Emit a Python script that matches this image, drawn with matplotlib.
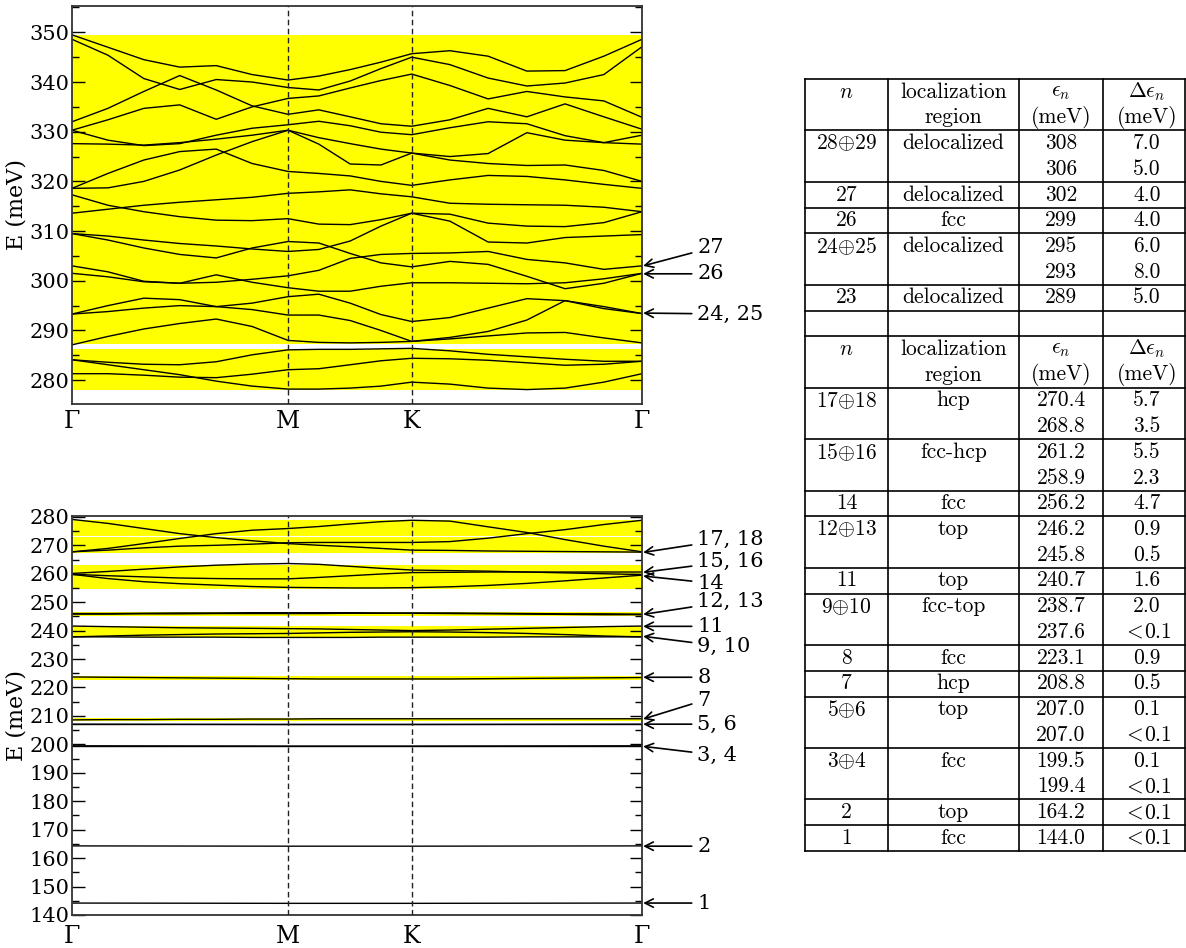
import matplotlib
matplotlib.use("Agg")
import matplotlib.pyplot as plt
from matplotlib.ticker import MultipleLocator

plt.rcParams['font.family'] = 'DejaVu Serif'
plt.rcParams['mathtext.fontset'] = 'cm'

# k-path Gamma-M-K-Gamma, fraction of the path
k_grid = [0.0, 0.063, 0.126, 0.189, 0.253, 0.316, 0.379, 0.433, 0.488,
          0.542, 0.596, 0.663, 0.730, 0.798, 0.865, 0.933, 1.0]
k_nodes = [0.0, 0.379, 0.596, 1.0]
node_labels = ['Γ', 'M', 'K', 'Γ']

# upper panel bands (meV) on k_grid
top_bands = [
    [349.5, 347.0, 344.5, 343.0, 343.3, 341.5, 340.4, 341.2, 342.5, 344.0, 345.7, 346.3, 345.2, 342.2, 342.3, 345.2, 348.6],
    [348.6, 345.4, 340.7, 338.5, 340.5, 340.0, 338.9, 338.4, 340.2, 342.7, 345.0, 343.5, 340.8, 339.2, 339.8, 341.5, 347.1],
    [332.0, 334.7, 338.1, 341.3, 338.4, 335.2, 333.5, 334.4, 333.0, 331.6, 331.1, 332.4, 334.7, 333.0, 335.6, 333.0, 330.5],
    [330.3, 332.4, 334.7, 335.4, 332.5, 335.0, 336.7, 337.2, 338.8, 340.3, 341.6, 339.3, 336.6, 338.1, 337.0, 336.2, 332.9],
    [330.3, 328.3, 327.2, 327.6, 329.3, 330.7, 331.4, 332.1, 331.2, 329.9, 329.4, 330.8, 332.0, 331.6, 329.2, 327.8, 329.3],
    [327.6, 327.5, 327.3, 327.8, 328.5, 329.3, 330.3, 328.8, 327.6, 326.5, 325.7, 325.0, 325.6, 329.8, 328.3, 327.8, 327.5],
    [318.6, 318.7, 320.0, 322.3, 325.3, 328.0, 330.3, 327.5, 323.5, 323.3, 325.7, 324.3, 323.6, 323.2, 323.3, 322.2, 320.0],
    [318.6, 321.6, 324.3, 326.0, 326.5, 323.6, 322.0, 321.6, 321.1, 320.0, 319.2, 320.3, 321.2, 321.0, 320.3, 319.4, 318.6],
    [313.6, 314.4, 315.2, 315.8, 316.3, 316.8, 317.6, 317.9, 318.3, 317.5, 316.9, 315.6, 315.4, 315.3, 315.2, 314.8, 313.9],
    [317.3, 315.2, 313.9, 312.9, 312.2, 312.1, 312.5, 311.4, 311.3, 312.3, 313.6, 313.4, 311.6, 311.0, 310.9, 311.7, 313.9],
    [309.5, 309.0, 308.2, 307.5, 307.0, 306.4, 305.9, 306.3, 308.0, 311.0, 313.6, 312.0, 307.8, 307.6, 308.7, 309.0, 309.3],
    [309.5, 308.2, 306.6, 305.3, 304.6, 306.6, 307.9, 307.6, 305.5, 303.6, 302.8, 303.9, 303.3, 300.9, 298.4, 299.5, 301.5],
    [301.5, 300.8, 299.8, 299.5, 299.7, 300.3, 301.0, 302.1, 304.5, 305.3, 305.5, 305.6, 305.9, 304.3, 303.6, 302.3, 303.0],
    [303.0, 301.8, 299.9, 299.5, 301.2, 299.7, 298.6, 297.9, 297.9, 298.9, 299.6, 299.6, 299.5, 299.4, 299.6, 300.4, 301.5],
    [293.3, 293.8, 294.5, 295.0, 294.8, 295.5, 296.8, 297.3, 295.5, 293.2, 291.8, 292.6, 294.5, 296.4, 296.0, 294.4, 293.4],
    [293.3, 295.0, 296.5, 296.2, 294.8, 294.2, 293.1, 293.1, 292.0, 290.0, 287.8, 288.6, 289.8, 292.1, 296.0, 294.8, 293.4],
    [287.1, 288.8, 290.3, 291.4, 292.3, 290.8, 288.0, 287.6, 287.5, 287.6, 287.8, 288.3, 288.9, 289.5, 289.6, 288.5, 287.5],
    [284.1, 283.6, 283.2, 283.1, 283.7, 285.1, 286.1, 286.2, 286.2, 286.3, 286.4, 285.9, 285.2, 284.7, 284.2, 283.8, 283.8],
    [284.1, 283.1, 282.1, 281.1, 279.8, 278.8, 278.2, 278.2, 278.4, 278.8, 279.6, 279.2, 278.4, 278.1, 278.4, 279.6, 281.3],
    [281.3, 281.3, 281.0, 280.6, 280.5, 281.2, 282.1, 282.3, 283.1, 283.9, 284.4, 284.3, 284.0, 283.5, 283.0, 283.2, 283.8],
]
top_shade = [(287.2, 349.4), (278.0, 286.2)]
top_labels = ['27', '26', '24, 25']
top_label_E = [306.6, 301.4, 293.3]
top_tip_E = [303.0, 301.4, 293.5]

# lower panel: dispersive bands on k_grid
bot_bands = [
    [279.1, 277.7, 275.9, 274.1, 272.7, 271.6, 270.6, 270.0, 269.5, 268.9, 268.3, 268.2, 268.0, 267.9, 267.8, 267.7, 267.6],
    [267.7, 268.9, 270.6, 272.4, 274.1, 275.3, 275.9, 276.6, 277.5, 278.3, 278.8, 278.5, 276.5, 274.5, 272.0, 269.7, 267.7],
    [267.7, 268.3, 269.1, 269.7, 270.0, 270.4, 270.9, 271.0, 271.0, 271.0, 271.0, 271.3, 272.5, 274.1, 275.5, 277.3, 278.8],
    [260.1, 260.8, 261.6, 262.4, 263.0, 263.4, 263.6, 263.3, 262.6, 261.9, 261.3, 261.1, 260.9, 260.6, 260.3, 260.0, 259.7],
    [259.8, 259.3, 258.9, 258.5, 258.3, 258.2, 258.2, 258.7, 259.3, 259.9, 260.4, 260.5, 260.6, 260.6, 260.6, 260.6, 260.6],
    [259.8, 258.3, 257.2, 256.5, 256.0, 255.5, 255.2, 255.1, 255.0, 255.0, 255.1, 255.4, 255.9, 256.6, 257.5, 258.5, 259.5],
    [246.0, 246.0, 246.1, 246.2, 246.2, 246.3, 246.3, 246.3, 246.3, 246.2, 246.1, 246.0, 245.9, 245.8, 245.7, 245.6, 245.6],
    [245.8, 245.8, 245.9, 245.9, 246.0, 246.0, 246.0, 246.0, 246.1, 246.1, 246.2, 246.2, 246.1, 246.0, 245.9, 245.9, 245.8],
    [241.6, 241.4, 241.2, 241.0, 240.9, 240.8, 240.7, 240.6, 240.4, 240.2, 240.0, 240.2, 240.5, 240.8, 241.1, 241.4, 241.6],
    [237.8, 238.1, 238.4, 238.6, 238.8, 238.9, 239.0, 239.2, 239.4, 239.5, 239.6, 239.5, 239.3, 239.0, 238.6, 238.1, 237.8],
    [237.8, 237.8, 237.7, 237.7, 237.7, 237.6, 237.6, 237.6, 237.6, 237.7, 237.7, 237.7, 237.7, 237.8, 237.8, 237.8, 237.8],
    [223.7, 223.6, 223.5, 223.4, 223.3, 223.2, 223.1, 223.0, 223.0, 223.0, 223.0, 223.0, 223.1, 223.2, 223.3, 223.4, 223.5],
    [208.6, 208.7, 208.7, 208.8, 208.8, 208.9, 208.9, 209.0, 209.0, 209.0, 209.0, 209.0, 209.0, 209.0, 209.0, 209.0, 209.0],
]
# lower panel: flat bands, values at Gamma, M, K, Gamma
bot_flat = [
    [207.1, 207.0, 207.0, 207.1],
    [207.0, 207.0, 207.0, 207.0],
    [199.5, 199.4, 199.4, 199.5],
    [199.4, 199.4, 199.4, 199.4],
    [164.3, 164.2, 164.2, 164.3],
    [144.2, 144.1, 144.1, 144.2],
]
bot_shade = [(267.2, 278.8), (254.6, 263.2), (245.3, 246.7), (237.6, 241.6),
             (222.7, 223.9), (208.3, 209.2)]
bot_labels = ['17, 18', '15, 16', '14', '12, 13', '11', '9, 10', '8', '7',
              '5, 6', '3, 4', '2', '1']
bot_label_E = [272.2, 264.4, 256.7, 250.4, 241.5, 234.4, 223.6, 215.5, 207.1,
               196.2, 164.2, 144.2]
bot_tip_E = [267.5, 260.5, 259.2, 245.7, 241.5, 238.0, 223.6, 208.9, 207.1,
             199.3, 164.2, 144.2]

# table contents
tab_header = [r'$n$', 'localization\nregion', '$\\epsilon_n$\n(meV)', '$\\Delta\\epsilon_n$\n(meV)']
tab1_n = [r'$28{\oplus}29$', '27', '26', r'$24{\oplus}25$', '23']
tab1_region = ['delocalized', 'delocalized', 'fcc', 'delocalized', 'delocalized']
tab1_eps = [['308', '306'], ['302'], ['299'], ['295', '293'], ['289']]
tab1_deps = [['7.0', '5.0'], ['4.0'], ['4.0'], ['6.0', '8.0'], ['5.0']]
tab2_n = [r'$17{\oplus}18$', r'$15{\oplus}16$', '14', r'$12{\oplus}13$', '11', r'$9{\oplus}10$',
          '8', '7', r'$5{\oplus}6$', r'$3{\oplus}4$', '2', '1']
tab2_region = ['hcp', 'fcc-hcp', 'fcc', 'top', 'top', 'fcc-top', 'fcc', 'hcp',
               'top', 'fcc', 'top', 'fcc']
tab2_eps = [['270.4', '268.8'], ['261.2', '258.9'], ['256.2'], ['246.2', '245.8'],
            ['240.7'], ['238.7', '237.6'], ['223.1'], ['208.8'], ['207.0', '207.0'],
            ['199.5', '199.4'], ['164.2'], ['144.0']]
tab2_deps = [['5.7', '3.5'], ['5.5', '2.3'], ['4.7'], ['0.9', '0.5'], ['1.6'],
             ['2.0', '<0.1'], ['0.9'], ['0.5'], ['0.1', '<0.1'], ['0.1', '<0.1'],
             ['<0.1'], ['<0.1']]

W, H = 1186, 948
fig = plt.figure(figsize=(W / 100, H / 100), dpi=100)


def panel(rect, ylim, bands, shade, xpad):
    ax = fig.add_axes(rect)
    for lo, hi in shade:
        ax.axhspan(lo, hi, color='#ffff00', lw=0, zorder=0)
    for e in bands:
        ax.plot(k_grid, e, color='k', lw=1.0, zorder=2)
    for k in k_nodes[1:3]:
        ax.axvline(k, color='#222222', ls=(0, (4, 2.5)), lw=1.0, zorder=3)
    ax.set_xlim(0, 1)
    ax.set_ylim(*ylim)
    ax.yaxis.set_major_locator(MultipleLocator(10))
    ax.yaxis.set_minor_locator(MultipleLocator(5))
    ax.tick_params(axis='y', which='both', direction='in', left=True, right=True,
                   labelsize=15, pad=2, width=1.0)
    ax.tick_params(axis='y', which='major', length=9)
    ax.tick_params(axis='y', which='minor', length=5)
    ax.set_xticks(k_nodes)
    ax.set_xticklabels(node_labels, fontsize=17)
    ax.tick_params(axis='x', length=0, pad=xpad)
    ax.set_ylabel('E (meV)', fontsize=16, labelpad=1)
    for s in ax.spines.values():
        s.set_linewidth(1.3)
        s.set_color('#333333')
    return ax


def arrows(ax, labels, lab_e, tip_e):
    for lab, le, te in zip(labels, lab_e, tip_e):
        ax.annotate(lab, xy=(1.002, te), xycoords=('axes fraction', 'data'),
                    xytext=(1.097, le), textcoords=('axes fraction', 'data'),
                    fontsize=15, ha='left', va='center', annotation_clip=False,
                    arrowprops=dict(arrowstyle='->', color='k', lw=1.2,
                                    shrinkA=2, shrinkB=0))


ax_top = panel([72 / W, 1 - 404 / H, 570 / W, 398 / H], (275.2, 355.3),
               top_bands, top_shade, 4)
arrows(ax_top, top_labels, top_label_E, top_tip_E)

ax_bot = panel([72 / W, 1 - 915 / H, 570 / W, 399 / H], (140, 280.3),
               bot_bands, bot_shade, 7)
ax_bot.axhline(273.4, color='white', lw=0.8, zorder=1)
for e in bot_flat:
    ax_bot.plot(k_nodes, e, color='k', lw=1.0, zorder=2)
arrows(ax_bot, bot_labels, bot_label_E, bot_tip_E)

# table drawn in figure pixel coordinates
tab = fig.add_axes([0, 0, 1, 1], zorder=-5)
tab.set_xlim(0, W)
tab.set_ylim(H, 0)
tab.axis('off')
col_x = [805, 888, 1019, 1103, 1185]
col_c = [846.5, 953.5, 1061, 1147]
line_h = 25.73
y0 = 79.0
tfont = dict(fontsize=15.5, family=['cmr10', 'DejaVu Serif'], ha='center', va='center')


def hline(y):
    tab.plot([col_x[0], col_x[-1]], [y, y], color='k', lw=1.2)


def fix(s):
    return r'$<\!0.1$' if s == '<0.1' else s


def block(y, n_list, reg_list, eps_list, deps_list):
    # header
    for c, h in zip(col_c, tab_header):
        for i, part in enumerate(h.split('\n')):
            tab.text(c, y + (i + 0.5) * line_h, part, **tfont)
    y += 2 * line_h
    hline(y)
    for n, reg, eps, deps in zip(n_list, reg_list, eps_list, deps_list):
        tab.text(col_c[0], y + 0.5 * line_h, n, **tfont)
        tab.text(col_c[1], y + 0.5 * line_h, reg, **tfont)
        for i, (a, b) in enumerate(zip(eps, deps)):
            tab.text(col_c[2], y + (i + 0.5) * line_h, a, **tfont)
            tab.text(col_c[3], y + (i + 0.5) * line_h, fix(b), **tfont)
        y += len(eps) * line_h
        hline(y)
    return y


hline(y0)
y = block(y0, tab1_n, tab1_region, tab1_eps, tab1_deps)
y += line_h
hline(y)
y = block(y, tab2_n, tab2_region, tab2_eps, tab2_deps)
for x in col_x:
    tab.plot([x, x], [y0, y], color='k', lw=1.2)

fig.savefig('out.png', dpi=100)
